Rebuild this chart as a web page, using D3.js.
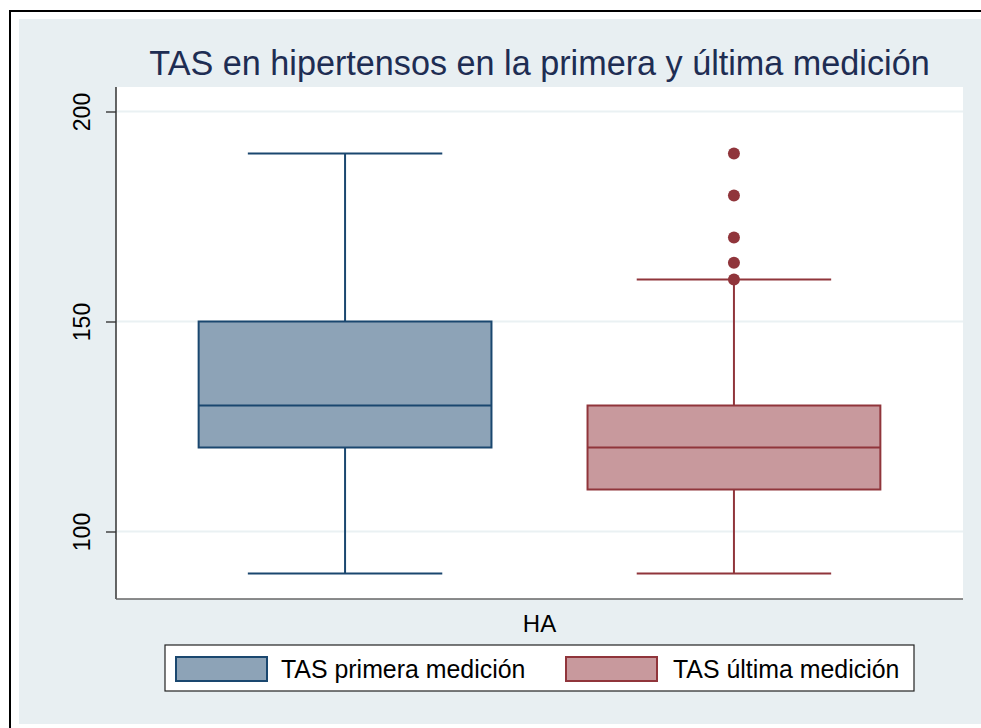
<!DOCTYPE html>
<html>
<head>
<meta charset="utf-8">
<script src="https://cdn.jsdelivr.net/npm/d3@7"></script>
<style>
  body { margin: 0; background: #fff; }
  text { font-family: "Liberation Sans", Arial, sans-serif; }
</style>
</head>
<body>
<svg id="chart" width="981" height="728"></svg>
<script>
// data
var series = ["TAS primera medición", "TAS última medición"];
var lowWhisker = [90, 90];
var q1 = [120, 110];
var median = [130, 120];
var q3 = [150, 130];
var highWhisker = [190, 160];
var outliers = [[], [160, 164, 170, 180, 190]];
var yTicks = [100, 150, 200];
var xLabel = "HA";
var title = "TAS en hipertensos en la primera y última medición";

var strokeColors = ["#1a476f", "#90353b"];
var fillColors = ["#8da3b7", "#c8999d"];

var svg = d3.select("#chart");

// outer frame and graph region
svg.append("rect").attr("x", 10).attr("y", 11).attr("width", 1000).attr("height", 800)
    .attr("fill", "#fff").attr("stroke", "#000").attr("stroke-width", 2);
svg.append("rect").attr("x", 19).attr("y", 19).attr("width", 980).attr("height", 705)
    .attr("fill", "#e8eff2");

var margin = {left: 116, top: 87, right: 963, bottom: 599};

svg.append("rect")
    .attr("x", margin.left).attr("y", margin.top)
    .attr("width", margin.right - margin.left)
    .attr("height", margin.bottom - margin.top)
    .attr("fill", "#fff");

var y = d3.scaleLinear()
    .domain([100, 200])
    .range([531.5, 111.5]);

var x = d3.scaleBand()
    .domain(series)
    .range([margin.left, margin.right])
    .paddingInner(0)
    .paddingOuter(0.089);

var bw = x.bandwidth();
var boxW = bw * 0.753;
var capW = bw * 0.5;

// grid lines
svg.append("g").selectAll("line")
    .data(yTicks)
    .join("line")
    .attr("x1", margin.left).attr("x2", margin.right)
    .attr("y1", function(d) { return y(d); })
    .attr("y2", function(d) { return y(d); })
    .attr("stroke", "#eaf1f3")
    .attr("stroke-width", 2);

// y axis
var yAxis = svg.append("g")
    .attr("transform", "translate(" + margin.left + ",0)")
    .call(d3.axisLeft(y).tickValues(yTicks).tickSize(10).tickFormat(d3.format("d")));
yAxis.select(".domain").remove();
yAxis.selectAll(".tick line").attr("stroke", "#444").attr("stroke-width", 1.5);
yAxis.selectAll(".tick text")
    .attr("x", null).attr("dy", null)
    .attr("transform", "translate(-26,0) rotate(-90)")
    .attr("text-anchor", "middle")
    .attr("font-size", 23)
    .attr("fill", "#000");

svg.append("line")
    .attr("x1", margin.left).attr("x2", margin.left)
    .attr("y1", margin.top).attr("y2", margin.bottom)
    .attr("stroke", "#333").attr("stroke-width", 1.5);
svg.append("line")
    .attr("x1", margin.left).attr("x2", margin.right)
    .attr("y1", margin.bottom).attr("y2", margin.bottom)
    .attr("stroke", "#666").attr("stroke-width", 1.5);

// boxes
var boxes = svg.append("g").selectAll("g")
    .data(series)
    .join("g")
    .attr("transform", function(d) { return "translate(" + (x(d) + bw / 2) + ",0)"; });

boxes.each(function(d, i) {
    var g = d3.select(this);
    var c = strokeColors[i];
    // whiskers
    g.append("line").attr("x1", 0).attr("x2", 0)
        .attr("y1", y(q3[i])).attr("y2", y(highWhisker[i]))
        .attr("stroke", c).attr("stroke-width", 2);
    g.append("line").attr("x1", 0).attr("x2", 0)
        .attr("y1", y(q1[i])).attr("y2", y(lowWhisker[i]))
        .attr("stroke", c).attr("stroke-width", 2);
    g.append("line").attr("x1", -capW / 2).attr("x2", capW / 2)
        .attr("y1", y(highWhisker[i])).attr("y2", y(highWhisker[i]))
        .attr("stroke", c).attr("stroke-width", 2);
    g.append("line").attr("x1", -capW / 2).attr("x2", capW / 2)
        .attr("y1", y(lowWhisker[i])).attr("y2", y(lowWhisker[i]))
        .attr("stroke", c).attr("stroke-width", 2);
    // box
    g.append("rect")
        .attr("x", -boxW / 2).attr("width", boxW)
        .attr("y", y(q3[i])).attr("height", y(q1[i]) - y(q3[i]))
        .attr("fill", fillColors[i]).attr("stroke", c).attr("stroke-width", 2);
    g.append("line").attr("x1", -boxW / 2).attr("x2", boxW / 2)
        .attr("y1", y(median[i])).attr("y2", y(median[i]))
        .attr("stroke", c).attr("stroke-width", 2);
    // outside values
    g.selectAll("circle")
        .data(outliers[i])
        .join("circle")
        .attr("cx", 0)
        .attr("cy", function(v) { return y(v); })
        .attr("r", 6)
        .attr("fill", c);
});

// title and x label
svg.append("text")
    .attr("x", (margin.left + margin.right) / 2).attr("y", 75)
    .attr("text-anchor", "middle")
    .attr("font-size", 34.2)
    .attr("fill", "#1e2d53")
    .text(title);

svg.append("text")
    .attr("x", (margin.left + margin.right) / 2).attr("y", 632)
    .attr("text-anchor", "middle")
    .attr("font-size", 24)
    .attr("fill", "#000")
    .text(xLabel);

// legend
var legend = svg.append("g");
legend.append("rect")
    .attr("x", 165).attr("y", 645).attr("width", 749).attr("height", 46)
    .attr("fill", "#fff").attr("stroke", "#222").attr("stroke-width", 1.2);

var items = legend.selectAll("g.item")
    .data(series)
    .join("g")
    .attr("class", "item")
    .attr("transform", function(d, i) { return "translate(" + (175 + i * 390) + ",656)"; });

items.append("rect")
    .attr("x", 1).attr("y", 1).attr("width", 91).attr("height", 24)
    .attr("fill", function(d, i) { return fillColors[i]; })
    .attr("stroke", function(d, i) { return strokeColors[i]; })
    .attr("stroke-width", 2);

items.append("text")
    .attr("x", function(d, i) { return i === 0 ? 106 : 108; })
    .attr("y", 22)
    .attr("font-size", 24.9)
    .attr("fill", "#000")
    .text(function(d) { return d; });
</script>
</body>
</html>
